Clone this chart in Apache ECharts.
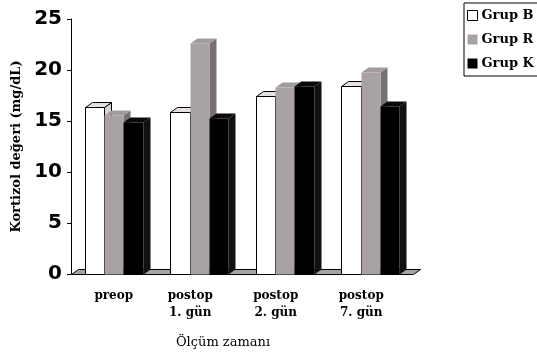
<!DOCTYPE html>
<html>
<head>
<meta charset="utf-8">
<script src="https://cdn.jsdelivr.net/npm/echarts@6/dist/echarts.min.js"></script>
<style>
  html, body { margin: 0; padding: 0; background: #fff; }
  #chart { width: 537px; height: 360px; }
</style>
</head>
<body>
<div id="chart"></div>
<script>
// Serum cortisol by measurement time, three groups
const categories = ['preop', 'postop\n1. gün', 'postop\n2. gün', 'postop\n7. gün'];
const seriesNames = ['Grup B', 'Grup R', 'Grup K'];
const grupB = [16.4, 15.9, 17.5, 18.4];
const grupR = [15.6, 22.6, 18.3, 19.8];
const grupK = [14.9, 15.3, 18.4, 16.5];
const yMin = 0, yMax = 25, yStep = 5;

// depth offset used for the pseudo-3D faces
const DX = 7, DY = -5;
const BAR_FRACTION = 0.225;

const faceStyles = [
  { front: '#ffffff', top: '#e4e0e0', side: '#d8d4d4', stroke: '#000000' },
  { front: '#a9a2a2', top: '#a19b9b', side: '#797171', stroke: null },
  { front: '#000000', top: '#0a0a0a', side: '#111111', stroke: null }
];

function barRenderer(idx) {
  const st = faceStyles[idx];
  return function (params, api) {
    const cat = api.value(0), val = api.value(1);
    const base = api.coord([cat, 0]);
    const top = api.coord([cat, val]);
    const band = api.size([1, 0])[0];
    const bw = band * BAR_FRACTION;
    const x0 = Math.round(base[0] + (idx - 1.5) * bw) + 0.5;
    const x1 = Math.round(base[0] + (idx - 0.5) * bw) + 0.5;
    const y0 = Math.round(base[1]) + 0.5;
    const y1 = Math.round(top[1]) + 0.5;
    const line = st.stroke ? { stroke: st.stroke, lineWidth: 1 } : { lineWidth: 0 };
    return {
      type: 'group',
      children: [
        {
          type: 'polygon',
          shape: { points: [[x1, y0], [x1 + DX, y0 + DY], [x1 + DX, y1 + DY], [x1, y1]] },
          style: Object.assign({ fill: st.side }, line)
        },
        {
          type: 'polygon',
          shape: { points: [[x0, y1], [x1, y1], [x1 + DX, y1 + DY], [x0 + DX, y1 + DY]] },
          style: Object.assign({ fill: st.top }, line)
        },
        {
          type: 'rect',
          shape: { x: x0, y: y1, width: x1 - x0, height: y0 - y1 },
          style: Object.assign({ fill: st.front }, line)
        }
      ]
    };
  };
}

function floorRenderer(params, api) {
  const band = api.size([1, 0])[0];
  const a = api.coord([0, 0]);
  const b = api.coord([categories.length - 1, 0]);
  const xl = Math.round(a[0] - band / 2) + 0.5;
  const xr = Math.round(b[0] + band / 2) + 0.5;
  const y = Math.round(a[1]) + 0.5;
  return {
    type: 'polygon',
    shape: { points: [[xl, y], [xr, y], [xr + DX, y + DY], [xl + DX, y + DY]] },
    style: { fill: '#a9a2a2', stroke: '#000', lineWidth: 1 }
  };
}

const serif = 'DejaVu Serif';
const xData = categories.map(function (c, i) {
  return i === 0 ? c : { value: c, textStyle: { padding: [0, 18, 0, 0] } };
});

const chart = echarts.init(document.getElementById('chart'), null, { renderer: 'canvas' });
chart.setOption({
  animation: false,
  backgroundColor: '#ffffff',
  grid: { left: 71, right: 124, top: 19, bottom: 86, containLabel: false },
  legend: {
    orient: 'vertical',
    left: 464,
    top: 3,
    padding: [6, 40, 6, 3],
    itemGap: 11,
    itemWidth: 10,
    itemHeight: 10,
    borderColor: '#000',
    borderWidth: 1,
    borderRadius: 0,
    textStyle: { fontFamily: serif, fontWeight: 'bold', fontSize: 13, color: '#000', padding: [0, 0, 0, -1] },
    data: [
      { name: seriesNames[0], icon: 'rect', itemStyle: { color: '#fff', borderColor: '#000', borderWidth: 1 } },
      { name: seriesNames[1], icon: 'rect', itemStyle: { color: '#a9a2a2', borderWidth: 0 } },
      { name: seriesNames[2], icon: 'rect', itemStyle: { color: '#000', borderWidth: 0 } }
    ]
  },
  xAxis: {
    type: 'category',
    data: xData,
    boundaryGap: true,
    axisLine: { show: false },
    axisTick: { show: false },
    axisLabel: {
      interval: 0,
      margin: 13,
      fontFamily: serif,
      fontWeight: 'bold',
      fontSize: 12,
      lineHeight: 17,
      color: '#000'
    },
    name: 'Ölçüm zamanı',
    nameLocation: 'middle',
    nameGap: 62,
    nameTextStyle: { fontFamily: serif, fontSize: 13, color: '#000', padding: [0, 38, 0, 0] }
  },
  yAxis: {
    type: 'value',
    min: yMin,
    max: yMax,
    interval: yStep,
    axisLine: { show: true, lineStyle: { color: '#000', width: 1 } },
    axisTick: { show: true, length: 4, lineStyle: { color: '#000' } },
    splitLine: { show: false },
    axisLabel: {
      margin: 9,
      fontFamily: 'DejaVu Sans',
      fontWeight: 'bold',
      fontSize: 20,
      color: '#000'
    },
    name: 'Kortizol değeri (mg/dL)',
    nameLocation: 'middle',
    nameGap: 46,
    nameRotate: 90,
    nameTextStyle: { fontFamily: serif, fontWeight: 'bold', fontSize: 13, color: '#000' }
  },
  series: [
    {
      type: 'custom',
      name: 'floor',
      silent: true,
      z: 1,
      renderItem: floorRenderer,
      data: [[0, 0]]
    },
    {
      type: 'custom', name: seriesNames[0], z: 2,
      itemStyle: { color: '#fff', borderColor: '#000', borderWidth: 1 },
      renderItem: barRenderer(0),
      encode: { x: 0, y: 1 },
      data: grupB.map(function (v, i) { return [i, v]; })
    },
    {
      type: 'custom', name: seriesNames[1], z: 3,
      itemStyle: { color: '#a9a2a2' },
      renderItem: barRenderer(1),
      encode: { x: 0, y: 1 },
      data: grupR.map(function (v, i) { return [i, v]; })
    },
    {
      type: 'custom', name: seriesNames[2], z: 4,
      itemStyle: { color: '#000' },
      renderItem: barRenderer(2),
      encode: { x: 0, y: 1 },
      data: grupK.map(function (v, i) { return [i, v]; })
    }
  ]
});
</script>
</body>
</html>
